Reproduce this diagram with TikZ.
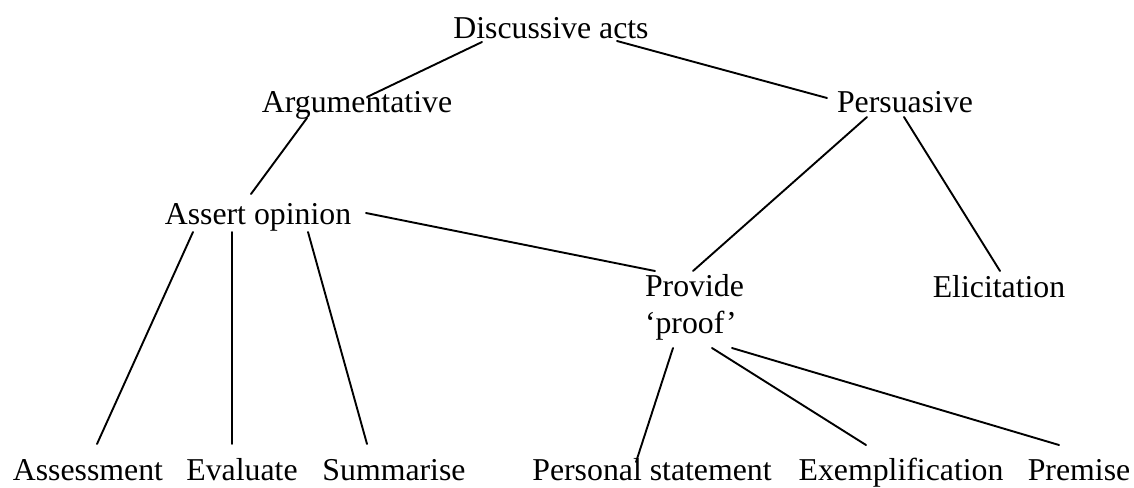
\documentclass[tikz,border=0pt]{standalone}
\usepackage{fontspec}
\setmainfont{Liberation Serif}
\begin{document}
\begin{tikzpicture}[x=0.5pt,y=-0.5pt,
  lbl/.style={inner sep=0pt,outer sep=0pt,anchor=base,font=\fontsize{15.9}{18.5}\selectfont},
  edge/.style={line width=0.95pt,line cap=round}]
\useasboundingbox (0,0) rectangle (1134,487);
\node[lbl] (da)   at (551,39)  {Discussive acts};
\node[lbl] (arg)  at (357,112) {Argumentative};
\node[lbl] (per)  at (905,112) {Persuasive};
\node[lbl] (ass)  at (258,224) {Assert opinion};
\node[lbl,anchor=base west,align=left] (prov) at (645,333) {Provide\\‘proof’};
\node[lbl] (eli)  at (999,297) {Elicitation};
\node[lbl] (asmt) at (88,480)  {Assessment};
\node[lbl] (eval) at (242,480) {Evaluate};
\node[lbl] (summ) at (394,480) {Summarise};
\node[lbl] (pers) at (652,480) {Personal statement};
\node[lbl] (exem) at (901,480) {Exemplification};
\node[lbl] (prem) at (1079,480) {Premise};
\draw[edge] ([shift={(-69,3)}]da.base) -- ([shift={(10,-15)}]arg.base);
\draw[edge] ([shift={(66,2)}]da.base) -- ([shift={(-78,-14)}]per.base);
\draw[edge] ([shift={(-50,6)}]arg.base) -- ([shift={(-7,-30)}]ass.base);
\draw[edge] ([shift={(-38,5)}]per.base) -- ([shift={(48,-62)}]prov.base west);
\draw[edge] ([shift={(-1,5)}]per.base) -- ([shift={(1,-26)}]eli.base);
\draw[edge] ([shift={(108,-11)}]ass.base) -- ([shift={(10,-62)}]prov.base west);
\draw[edge] ([shift={(-65,8)}]ass.base) -- ([shift={(9,-36)}]asmt.base);
\draw[edge] ([shift={(-26,8)}]ass.base) -- ([shift={(-10,-36)}]eval.base);
\draw[edge] ([shift={(50,8)}]ass.base) -- ([shift={(-27,-36)}]summ.base);
\draw[edge] ([shift={(28,15)}]prov.base west) -- ([shift={(-16,-18)}]pers.base);
\draw[edge] ([shift={(67,15)}]prov.base west) -- ([shift={(-35,-35)}]exem.base);
\draw[edge] ([shift={(87,15)}]prov.base west) -- ([shift={(-20,-35)}]prem.base);
\end{tikzpicture}
\end{document}
